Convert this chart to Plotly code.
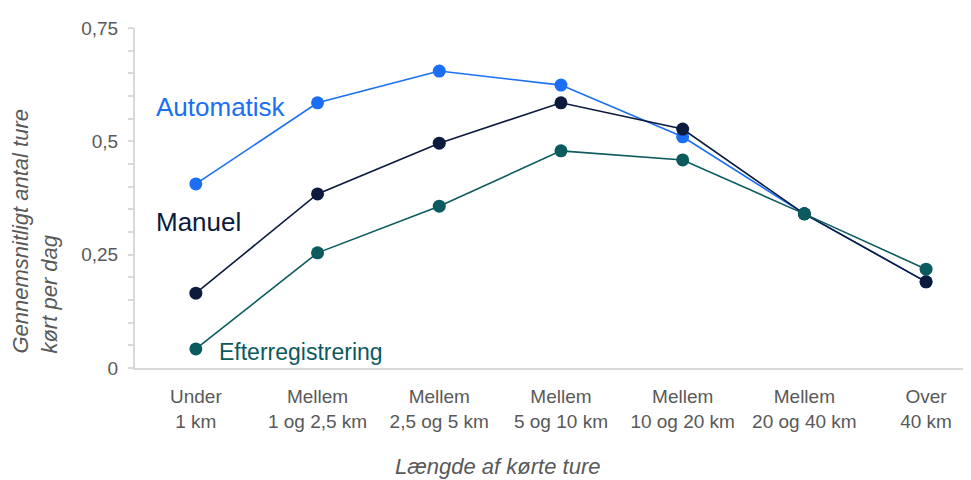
import plotly.graph_objects as go

categories = ["Under<br>1 km", "Mellem<br>1 og 2,5 km", "Mellem<br>2,5 og 5 km",
              "Mellem<br>5 og 10 km", "Mellem<br>10 og 20 km", "Mellem<br>20 og 40 km",
              "Over<br>40 km"]
automatisk = [0.406, 0.585, 0.655, 0.624, 0.51, 0.34, 0.19]
manuel = [0.165, 0.384, 0.496, 0.585, 0.527, 0.34, 0.19]
efterregistrering = [0.042, 0.254, 0.357, 0.479, 0.459, 0.34, 0.218]

series = [
    ("Automatisk", automatisk, "#1a6ff5"),
    ("Manuel", manuel, "#0c1a3d"),
    ("Efterregistrering", efterregistrering, "#0b5a5e"),
]

fig = go.Figure()
for name, vals, color in series:
    fig.add_trace(go.Scatter(
        x=categories, y=vals, mode="lines+markers", name=name,
        line=dict(color=color, width=1.6),
        marker=dict(color=color, size=13),
    ))

font = "Liberation Sans, Arial, sans-serif"
grey = "#595959"

# series labels placed next to the first points
fig.add_annotation(x=categories[0], y=automatisk[0], text="Automatisk", showarrow=False,
                   xanchor="left", yanchor="middle", xshift=-42, yshift=77,
                   font=dict(color="#1a6ff5", size=26, family=font))
fig.add_annotation(x=categories[0], y=manuel[0], text="Manuel", showarrow=False,
                   xanchor="left", yanchor="middle", xshift=-42, yshift=71,
                   font=dict(color="#0c1a3d", size=26, family=font))
fig.add_annotation(x=categories[0], y=efterregistrering[0], text="Efterregistrering",
                   showarrow=False, xanchor="left", yanchor="middle", xshift=21, yshift=-3,
                   font=dict(color="#0b5a5e", size=23, family=font))

# axis titles
fig.add_annotation(text="Længde af kørte ture", xref="paper", yref="paper",
                   x=0.43, y=-0.291, xanchor="center", yanchor="middle", showarrow=False,
                   font=dict(size=22, color=grey, family=font, style="italic"))
fig.add_annotation(text="Gennemsnitligt antal ture<br>kørt per dag", xref="paper", yref="paper",
                   x=-0.1185, y=0.038, xanchor="center", yanchor="bottom", showarrow=False,
                   textangle=-90, align="left",
                   font=dict(size=22, color=grey, family=font, style="italic"))

fig.update_layout(
    width=971, height=480,
    margin=dict(l=127, r=0, t=20, b=120),
    plot_bgcolor="white", paper_bgcolor="white",
    separators=",.",
    showlegend=False,
    font=dict(family=font, color=grey, size=16),
    xaxis=dict(
        type="category", range=[-0.5, 6.435],
        showgrid=False, showline=True, linecolor="#d9d9d9", linewidth=2,
        ticks="", ticklabelstandoff=10, tickfont=dict(size=19, color=grey),
    ),
    yaxis=dict(
        range=[0, 0.75], tickvals=[0, 0.25, 0.5, 0.75],
        showgrid=False, zeroline=False, showline=True, linecolor="#d9d9d9", linewidth=2,
        ticks="outside", ticklen=5, tickcolor="#d9d9d9", tickwidth=2,
        minor=dict(dtick=0.05, ticks="outside", ticklen=5, tickcolor="#d9d9d9", tickwidth=2),
        ticklabelstandoff=6, tickfont=dict(size=19, color=grey),
    ),
)

fig.write_html("out.html")
